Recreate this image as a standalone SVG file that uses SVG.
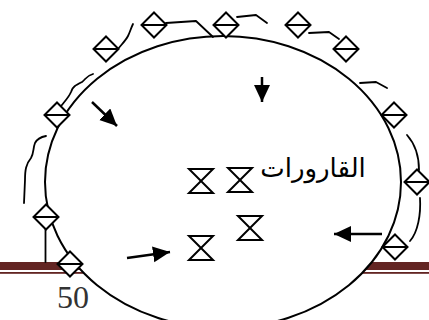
<svg xmlns="http://www.w3.org/2000/svg" width="429" height="320" viewBox="0 0 429 320">
<defs>
<style>
.bar{fill:#632523}
.oval{fill:#fff;stroke:#000;stroke-width:2}
.dia{fill:#fff;stroke:#000;stroke-width:2}
.hg{fill:none;stroke:#000;stroke-width:2;stroke-linejoin:miter}
.wave{fill:none;stroke:#000;stroke-width:1.8;stroke-linecap:round;stroke-linejoin:round}
.arr{fill:none;stroke:#000;stroke-width:2.5;marker-end:url(#head)}
.lbl{font-family:"DejaVu Sans","Noto Sans",sans-serif;font-size:26px;fill:#000}
.num{font-family:"Liberation Serif","DejaVu Serif",serif;font-size:32px;fill:#333}
</style>
<marker id="head" markerUnits="userSpaceOnUse" markerWidth="18" markerHeight="17" refX="17" refY="8" orient="auto" viewBox="0 0 18 17">
<path d="M0,0 L17,8 L0,16 z" fill="#000"/>
</marker>
<g id="diamond-shape">
<path d="M0,-12.5 L12.5,0 L0,12.5 L-12.5,0 Z M-12.5,0 H12.5"/>
</g>
<g id="hourglass-shape">
<path d="M-12,-12 H12 L-12,12 H12 Z"/>
</g>
</defs>

<g id="footer-rule">
<rect class="bar" x="0" y="262" width="429" height="8"/>
<rect class="bar" x="0" y="272" width="429" height="1.8"/>
</g>

<g id="page-number"><text class="num" x="57" y="308">50</text></g>

<g id="oval"><ellipse class="oval" cx="223" cy="182" rx="178" ry="146"/></g>

<g id="connectors">
<path class="wave" d="M118,49 C122,44 126,40 128,36 C130,32 131,28 133,24"/>
<path class="wave" d="M166,23 L196,21 L213,37"/>
<path class="wave" d="M237,17 L256,15 L267,23"/>
<path class="wave" d="M309,33 L329,32 L339,39"/>
<path class="wave" d="M360,83 L376,82 L387,88"/>
<path class="wave" d="M407,135 C415,144 419,156 419,170"/>
<path class="wave" d="M420,198 C421,214 418,232 410,241"/>
<path class="wave" d="M61,106 C65,101 69,97 71,92 C72,87 76,85 82,82 C86,79 86,76 93,74"/>
<path class="wave" d="M46,136 C41,137 37,139 35,143 C33,148 34,153 31,158 C26,164 25,170 25,180 L24,203"/>
<path class="wave" d="M45.5,229 V262"/>
<path class="arr" d="M92,102 L117,126"/>
<path class="arr" d="M262,77 L262,102"/>
<path class="arr" d="M382,234 L334,234"/>
<path class="arr" d="M127,258 L170,252"/>
</g>

<g id="d1" class="dia"><use href="#diamond-shape" x="106" y="49"/></g>
<g id="d2" class="dia"><use href="#diamond-shape" x="154" y="25"/></g>
<g id="d3" class="dia"><use href="#diamond-shape" x="226" y="25"/></g>
<g id="d4" class="dia"><use href="#diamond-shape" x="298" y="25"/></g>
<g id="d5" class="dia"><use href="#diamond-shape" x="346" y="49"/></g>
<g id="d6" class="dia"><use href="#diamond-shape" x="394" y="115"/></g>
<g id="d7" class="dia"><use href="#diamond-shape" x="417" y="182"/></g>
<g id="d8" class="dia"><use href="#diamond-shape" x="395" y="247"/></g>
<g id="d9" class="dia"><use href="#diamond-shape" x="70" y="264"/></g>
<g id="d10" class="dia"><use href="#diamond-shape" x="46" y="217"/></g>
<g id="d11" class="dia"><use href="#diamond-shape" x="57" y="115"/></g>

<g id="h1" class="hg"><use href="#hourglass-shape" x="201" y="181"/></g>
<g id="h2" class="hg"><use href="#hourglass-shape" x="240" y="180"/></g>
<g id="h3" class="hg"><use href="#hourglass-shape" x="250" y="228"/></g>
<g id="h4" class="hg"><use href="#hourglass-shape" x="201" y="248"/></g>

<g id="label"><text class="lbl" x="313" y="177" text-anchor="middle">القارورات</text></g>
</svg>
